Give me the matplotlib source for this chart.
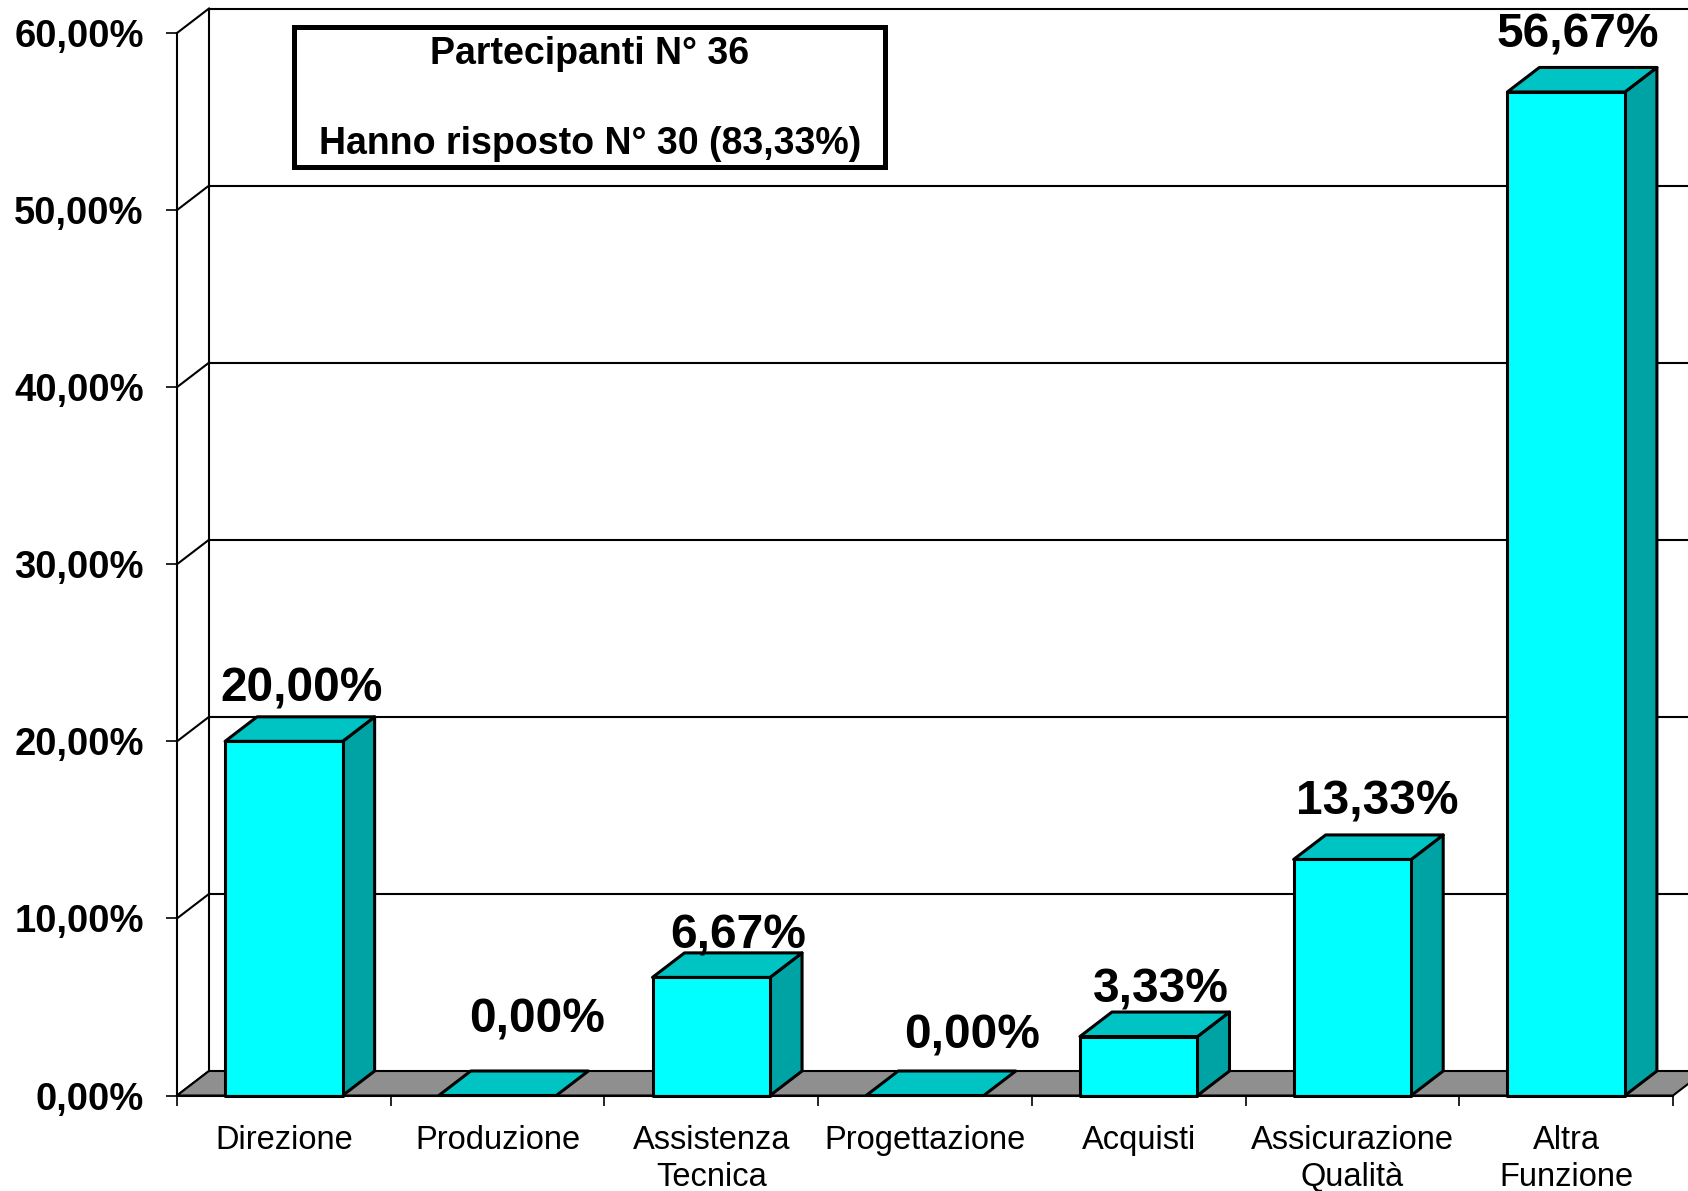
import numpy as np
import matplotlib
matplotlib.use("Agg")
import matplotlib.pyplot as plt
from matplotlib.patches import Polygon, Rectangle

plt.rcParams['font.family'] = ['Liberation Sans', 'DejaVu Sans']

# dati
categorie = ["Direzione", "Produzione", "Assistenza\nTecnica", "Progettazione",
             "Acquisti", "Assicurazione\nQualità", "Altra\nFunzione"]
valori = [20.00, 0.00, 6.67, 0.00, 3.33, 13.33, 56.67]
etichette = ["20,00%", "0,00%", "6,67%", "0,00%", "3,33%", "13,33%", "56,67%"]
yticks = [0, 10, 20, 30, 40, 50, 60]
ytick_labels = ["0,00%", "10,00%", "20,00%", "30,00%", "40,00%", "50,00%", "60,00%"]
box_righe = ["Partecipanti N° 36", "Hanno risposto N° 30 (83,33%)"]

# spostamento delle etichette (pixel) rispetto al centro della faccia superiore
lab_dx = [2, 23, 10.5, 31.5, 6, 8.5, -4]
lab_dy = [32, 56, 21.5, 39.5, 26.5, 37.5, 37]

W, H = 1688, 1191
fig = plt.figure(figsize=(W / 100, H / 100), dpi=100)
ax = fig.add_axes([177 / W, (H - 1095.5) / H, 1496 / W, (1095.5 - 33) / H])
ax.set_xlim(0, 7)
ax.set_ylim(0, 60)

# profondità 3D in unità dei dati
DX = 32 / (1496 / 7)
DY = 24.5 / ((1095.5 - 33) / 60)

c_front = "#00FFFF"
c_top = "#00C4C4"
c_side = "#00A3A3"
c_floor = "#8F8F8F"
lw_bar = 2.2
lw_grid = 1.5

# parete di fondo: griglia
ax.hlines([v + DY for v in yticks[1:]], DX, 7.6, colors="black", lw=lw_grid,
          clip_on=False, zorder=1)
ax.vlines(DX, DY, 60 + DY, colors="black", lw=lw_grid, clip_on=False, zorder=1)
# parete sinistra: diagonali
for v in yticks:
    ax.plot([0, DX], [v, v + DY], color="black", lw=lw_grid, clip_on=False, zorder=1)

# pavimento
ax.add_patch(Polygon([(0, 0), (7, 0), (7 + DX, DY), (DX, DY)], closed=True,
                     facecolor=c_floor, edgecolor="black", lw=1.5,
                     clip_on=False, zorder=2))

# barre 3D
w = 0.55
fs_val = 34.5
for i, h in enumerate(valori):
    x0 = i + 0.5 - w / 2
    x1 = i + 0.5 + w / 2
    if h > 0:
        ax.add_patch(Polygon([(x1, 0), (x1 + DX, DY), (x1 + DX, h + DY), (x1, h)],
                             facecolor=c_side, edgecolor="black", lw=lw_bar,
                             joinstyle="round", clip_on=False, zorder=3))
        ax.add_patch(Rectangle((x0, 0), w, h, facecolor=c_front, edgecolor="black",
                               lw=lw_bar, joinstyle="round", clip_on=False, zorder=4))
    ax.add_patch(Polygon([(x0, h), (x1, h), (x1 + DX, h + DY), (x0 + DX, h + DY)],
                         facecolor=c_top, edgecolor="black", lw=lw_bar,
                         joinstyle="round", clip_on=False, zorder=4))
    # etichetta del valore
    cap = 0.716 * fs_val / 0.72
    ax.annotate(etichette[i], xy=(i + 0.5 + DX / 2, h + DY),
                xytext=(lab_dx[i] * 0.72, (lab_dy[i] - cap / 2) * 0.72),
                textcoords="offset points", ha="center", va="baseline",
                fontsize=fs_val, fontweight="bold", zorder=6, annotation_clip=False)

# assi
for s in ["top", "right"]:
    ax.spines[s].set_visible(False)
ax.spines["left"].set_linewidth(lw_grid)
ax.spines["bottom"].set_linewidth(lw_grid)
ax.spines["bottom"].set_zorder(5)

ax.set_yticks(yticks)
ax.set_yticklabels(ytick_labels, fontsize=27.5, fontweight="bold")
ax.tick_params(axis="y", length=8, width=1.2, pad=16)

ax.set_xticks(np.arange(8))
ax.set_xticklabels([])
ax.set_xticks(np.arange(7) + 0.5, minor=True)
ax.set_xticklabels(categorie, minor=True, fontsize=23.5, linespacing=1.28)
ax.tick_params(axis="x", which="major", length=7, width=1.2)
ax.tick_params(axis="x", which="minor", length=0, pad=21)
ax.set_facecolor("none")

# riquadro con il testo
fig.patches.append(Rectangle((294 / W, 1 - 167 / H), (885 - 294) / W, (167 - 27) / H,
                             transform=fig.transFigure, facecolor="white",
                             edgecolor="black", lw=3.6, zorder=7))
fig.text(590 / W, 1 - 54 / H, box_righe[0], ha="center", va="center",
         fontsize=27, fontweight="bold", zorder=8)
fig.text(590 / W, 1 - 144 / H, box_righe[1], ha="center", va="center",
         fontsize=27, fontweight="bold", zorder=8)

plt.savefig("out.png", dpi=100)
